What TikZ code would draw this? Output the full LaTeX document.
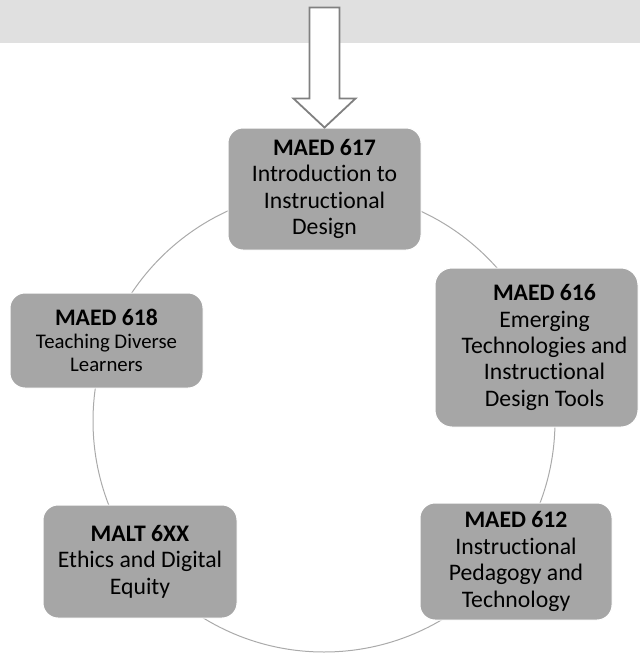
\documentclass[tikz,border=0pt]{standalone}
\usepackage{fontspec}
\setmainfont{Carlito}[Ligatures=NoCommon]
\usetikzlibrary{positioning, calc}

\definecolor{bandgray}{RGB}{224,224,224}
\definecolor{boxgray}{RGB}{166,166,166}
\definecolor{ringgray}{RGB}{170,170,170}
\definecolor{arrowgray}{RGB}{128,128,128}

\begin{document}
\begin{tikzpicture}[
    x=1pt, y=-1pt,
    % Course boxes on the ring
    course/.style={
        rectangle,
        rounded corners=15pt,
        draw=white,
        line width=1pt,
        fill=boxgray,
        align=center,
        inner sep=2pt,
        font=\fontsize{23.7}{26.4}\selectfont
    },
    ringstyle/.style={
        circle,
        draw=ringgray,
        line width=1pt,
        inner sep=0pt,
        minimum size=462pt
    },
    entryarrow/.style={
        draw=arrowgray,
        fill=white,
        line width=1.8pt,
        line join=miter
    }
]
\useasboundingbox (0,0) rectangle (640,654);

% === Top band ===
\fill[bandgray] (0,0) rectangle (640,43);

% === Ring ===
\node[ringstyle] (ring) at (324,421) {};

% === Courses ===
\node[course, minimum width=193pt, minimum height=122pt] (m617) at (324.5,189)
    {\textbf{MAED 617}\\Introduction to\\Instructional\\Design};
\node[course, minimum width=203pt, minimum height=159pt, rounded corners=17pt] (m616) at (536.5,347.5)
    {\hspace*{16pt}\textbf{MAED 616}\\\hspace*{16pt}Emerging\\\hspace*{16pt}Technologies and\\\hspace*{16pt}Instructional\\\hspace*{16pt}Design Tools};
\node[course, minimum width=192pt, minimum height=117pt] (m612) at (516,561.5)
    {\textbf{MAED 612}\\Instructional\\Pedagogy and\\Technology};
\node[course, minimum width=194pt, minimum height=113pt] (malt) at (140,561.5)
    {\textbf{MALT 6XX}\\Ethics and Digital\\Equity};
\node[course, minimum width=193pt, minimum height=95pt, font=\fontsize{20.8}{23}\selectfont] (m618) at (106.5,340.5)
    {{\fontsize{23.7}{26.4}\selectfont\textbf{MAED 618}}\\Teaching Diverse\\Learners};

% === Entry arrow ===
\draw[entryarrow] ($(m617.north)+(-15,-120)$) -- ($(m617.north)+(15,-120)$)
    -- ($(m617.north)+(15,-29)$) -- ($(m617.north)+(31,-29)$) -- (m617.north)
    -- ($(m617.north)+(-31,-29)$) -- ($(m617.north)+(-15,-29)$) -- cycle;

\end{tikzpicture}
\end{document}
